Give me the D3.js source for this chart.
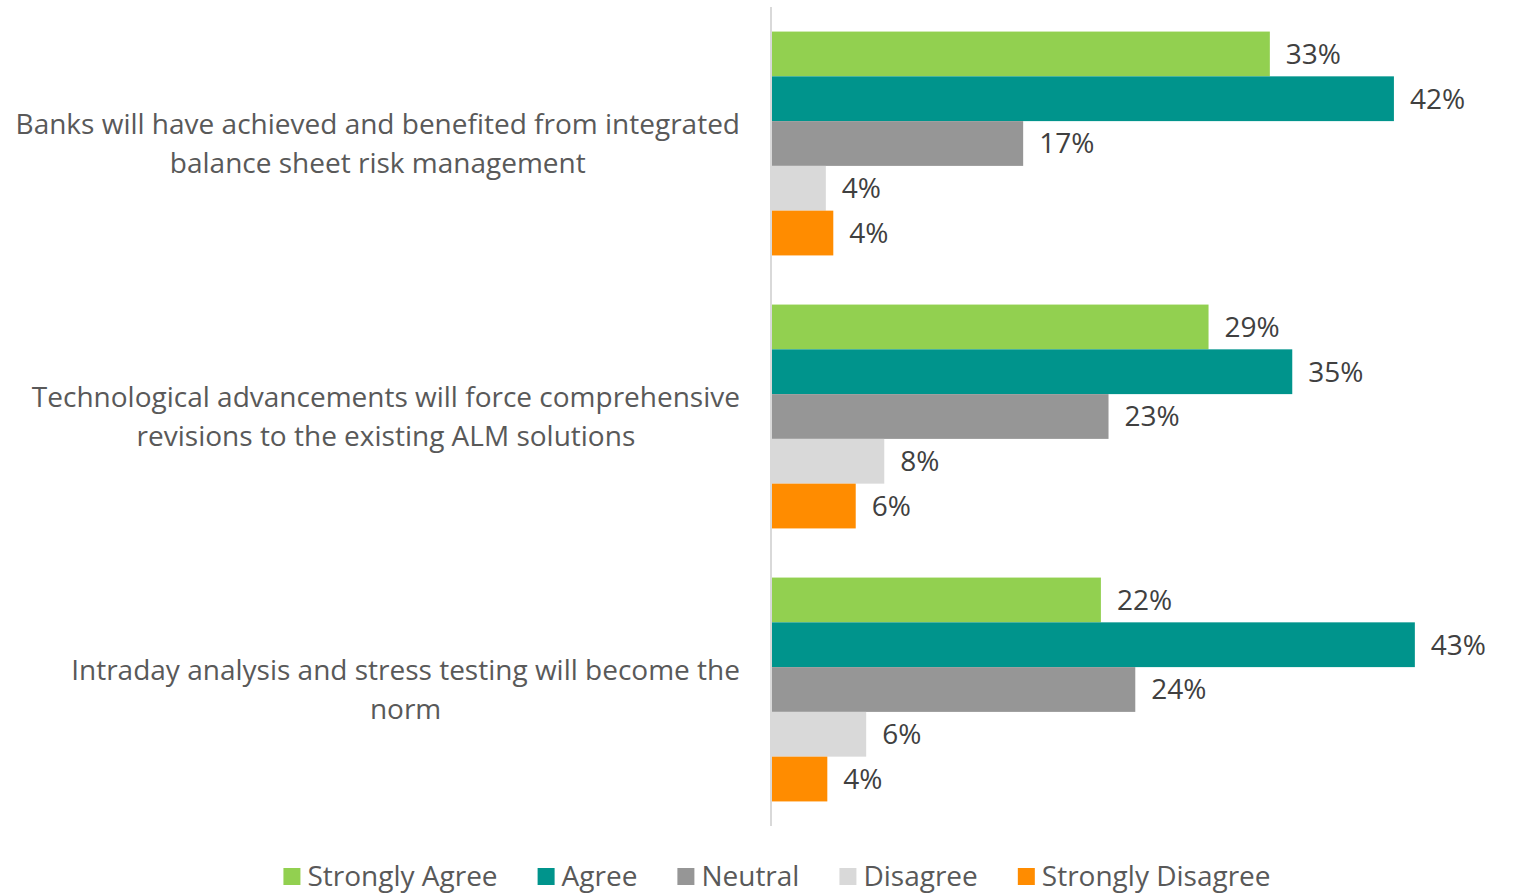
<!DOCTYPE html>
<html>
<head>
<meta charset="utf-8">
<script src="https://cdn.jsdelivr.net/npm/d3@7"></script>
<style>
  body { margin: 0; background: #fff; }
  svg { display: block; font-family: "Open Sans", sans-serif; }
</style>
</head>
<body>
<div id="chart"></div>
<script>
// statements (top to bottom)
const statements = [
    "Banks will have achieved and benefited from integrated balance sheet risk management",
    "Technological advancements will force comprehensive revisions to the existing ALM solutions",
    "Intraday analysis and stress testing will become the norm"
];
const labelLines = [
    ["Banks will have achieved and benefited from integrated", "balance sheet risk management"],
    ["Technological advancements will force comprehensive", "revisions to the existing ALM solutions"],
    ["Intraday analysis and stress testing will become the", "norm"]
];

const responses = ["Strongly Agree", "Agree", "Neutral", "Disagree", "Strongly Disagree"];
const colors = ["#92d050", "#00948c", "#969696", "#d9d9d9", "#ff8c00"];

// share of respondents per statement, in response order
const stronglyAgree    = [0.333, 0.292, 0.220];
const agree            = [0.416, 0.348, 0.430];
const neutral          = [0.168, 0.2251, 0.243];
const disagree         = [0.036, 0.0751, 0.063];
const stronglyDisagree = [0.041, 0.056, 0.037];

const seriesValues = [stronglyAgree, agree, neutral, disagree, stronglyDisagree];

const width = 1514, height = 896;

const svg = d3.select("#chart").append("svg")
    .attr("width", width)
    .attr("height", height);

const x = d3.scaleLinear()
    .domain([0, 0.5])
    .range([772, 772 + 747.5]);

const y = d3.scaleBand()
    .domain(statements)
    .range([7, 826])
    .paddingInner(0.18)
    .paddingOuter(0.09);

const ySub = d3.scaleBand()
    .domain(responses)
    .range([0, y.bandwidth()]);

// build rows: one entry per bar
let bars = [];
statements.forEach((s, i) => {
    responses.forEach((r, j) => {
        bars.push({ statement: s, response: r, value: seriesValues[j][i], color: colors[j] });
    });
});

const fmt = d3.format(".0%");

svg.append("g")
    .selectAll("rect")
    .data(bars)
    .enter()
    .append("rect")
    .attr("x", x(0))
    .attr("y", d => y(d.statement) + ySub(d.response))
    .attr("width", d => x(d.value) - x(0))
    .attr("height", ySub.bandwidth())
    .attr("fill", d => d.color);

// value labels
svg.append("g")
    .selectAll("text")
    .data(bars)
    .enter()
    .append("text")
    .attr("x", d => x(d.value) + 16)
    .attr("y", d => y(d.statement) + ySub(d.response) + ySub.bandwidth() / 2)
    .attr("dy", "0.35em")
    .attr("font-size", 28)
    .attr("fill", "#404040")
    .text(d => fmt(d.value));

// vertical axis line
svg.append("line")
    .attr("x1", 771).attr("x2", 771)
    .attr("y1", 7).attr("y2", 826)
    .attr("stroke", "#d9d9d9")
    .attr("stroke-width", 2);

// category labels, centred block with right edge at 740
const catG = svg.append("g");
statements.forEach((s, i) => {
    const lines = labelLines[i];
    const t = catG.append("text")
        .attr("font-size", 28)
        .attr("fill", "#595959")
        .attr("text-anchor", "middle");
    const cy = y(s) + y.bandwidth() / 2;
    lines.forEach((ln, k) => {
        t.append("tspan")
            .attr("x", 0)
            .attr("y", cy + (k - (lines.length - 1) / 2) * 39)
            .attr("dy", "0.35em")
            .text(ln);
    });
    const w = t.node().getBBox().width;
    t.selectAll("tspan").attr("x", 740 - w / 2);
});

// legend
const leg = svg.append("g");
let lx = 0;
responses.forEach((r, j) => {
    const g = leg.append("g").attr("transform", `translate(${lx},0)`);
    g.append("rect")
        .attr("x", 0).attr("y", -8)
        .attr("width", 17).attr("height", 17)
        .attr("fill", colors[j]);
    const t = g.append("text")
        .attr("x", 24)
        .attr("y", 0)
        .attr("dy", "0.35em")
        .attr("font-size", 28)
        .attr("fill", "#595959")
        .text(r);
    lx += 24 + t.node().getComputedTextLength() + 40;
});
lx -= 40;
leg.attr("transform", `translate(${(width - lx) / 2 + 20},876)`);
</script>
</body>
</html>
